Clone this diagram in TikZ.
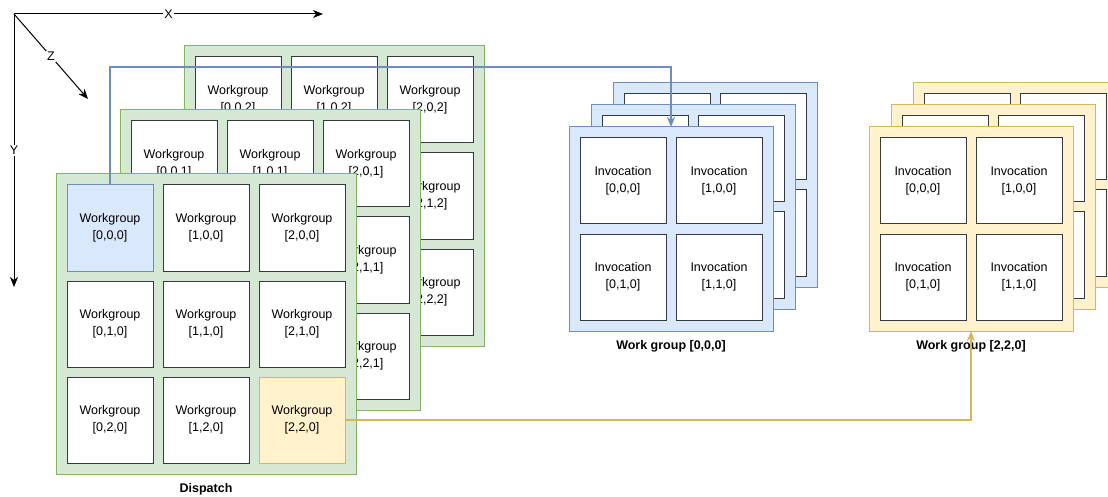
\documentclass[tikz,border=0pt]{standalone}
\usepackage{fontspec}
\setmainfont{Liberation Sans}
\usetikzlibrary{arrows.meta,positioning}
\definecolor{grnfill}{HTML}{D5E8D4}
\definecolor{grnline}{HTML}{82B366}
\definecolor{blufill}{HTML}{DAE8FC}
\definecolor{bluline}{HTML}{6C8EBF}
\definecolor{yelfill}{HTML}{FFF2CC}
\definecolor{yelline}{HTML}{D6B656}
\definecolor{cellline}{HTML}{36393D}
\newcommand{\wg}[1]{Workgroup\\{}[#1]}
\newcommand{\inv}[1]{Invocation\\{}[#1]}

\begin{document}
\begin{tikzpicture}[x=1pt,y=-1pt,
    panel/.style={rectangle,draw=grnline,fill=grnfill,line width=1pt,
      minimum width=300pt, minimum height=300pt, anchor=north west,
      inner sep=0pt, outer sep=0pt},
    wgpanel/.style={panel,minimum width=204pt,minimum height=204pt},
    cell/.style={rectangle,draw=cellline,fill=white,line width=1pt,
      minimum size=86pt, inner sep=0pt, outer sep=0pt},
    axis/.style={fill=white,inner sep=1pt},
    title/.style={font=\fontsize{12.5}{17.5}\selectfont\bfseries},
    to/.style={-{Stealth[length=10pt,width=8pt,inset=3pt]}},
    every node/.style={align=center,font=\fontsize{12.5}{17.5}\selectfont}]

  \useasboundingbox (0,0) rectangle (1108,497);
  \newcommand{\sep}{10pt}
  \newcommand{\pad}{11pt}

  % axes
  \coordinate (o) at (14,14);
  \coordinate (xend) at (323,14);
  \coordinate (yend) at (14,287);
  \coordinate (zend) at (88,99);
  \draw[to,line width=1pt] (o) -- node[axis] {X} (xend);
  \draw[to,line width=1pt] (o) -- node[axis] {Y} (yend);
  \draw[to,line width=1pt] (o) -- node[axis] {Z} (zend);

  % dispatch, z = 2
  \node[panel] (d2) at (184,46) {};
  \node[cell,below right=\pad and \pad of d2.north west] (w002) {\wg{0,0,2}};
  \node[cell,right=\sep of w002] (w102) {\wg{1,0,2}};
  \node[cell,right=\sep of w102] (w202) {\wg{2,0,2}};
  \node[cell,below=\sep of w002] (w012) {\wg{0,1,2}};
  \node[cell,right=\sep of w012] (w112) {\wg{1,1,2}};
  \node[cell,right=\sep of w112] (w212) {\wg{2,1,2}};
  \node[cell,below=\sep of w012] (w022) {\wg{0,2,2}};
  \node[cell,right=\sep of w022] (w122) {\wg{1,2,2}};
  \node[cell,right=\sep of w122] (w222) {\wg{2,2,2}};

  % dispatch, z = 1
  \node[panel] (d1) at (120,110) {};
  \node[cell,below right=\pad and \pad of d1.north west] (w001) {\wg{0,0,1}};
  \node[cell,right=\sep of w001] (w101) {\wg{1,0,1}};
  \node[cell,right=\sep of w101] (w201) {\wg{2,0,1}};
  \node[cell,below=\sep of w001] (w011) {\wg{0,1,1}};
  \node[cell,right=\sep of w011] (w111) {\wg{1,1,1}};
  \node[cell,right=\sep of w111] (w211) {\wg{2,1,1}};
  \node[cell,below=\sep of w011] (w021) {\wg{0,2,1}};
  \node[cell,right=\sep of w021] (w121) {\wg{1,2,1}};
  \node[cell,right=\sep of w121] (w221) {\wg{2,2,1}};

  % dispatch, z = 0
  \node[panel] (d0) at (56,174) {};
  \node[cell,draw=bluline,fill=blufill,below right=\pad and \pad of d0.north west] (w000) {\wg{0,0,0}};
  \node[cell,right=\sep of w000] (w100) {\wg{1,0,0}};
  \node[cell,right=\sep of w100] (w200) {\wg{2,0,0}};
  \node[cell,below=\sep of w000] (w010) {\wg{0,1,0}};
  \node[cell,right=\sep of w010] (w110) {\wg{1,1,0}};
  \node[cell,right=\sep of w110] (w210) {\wg{2,1,0}};
  \node[cell,below=\sep of w010] (w020) {\wg{0,2,0}};
  \node[cell,right=\sep of w020] (w120) {\wg{1,2,0}};
  \node[cell,draw=yelline,fill=yelfill,right=\sep of w120] (w220) {\wg{2,2,0}};
  \node[title,below=6pt of d0] (dlab) {Dispatch};

  % work group [0,0,0]
  \node[wgpanel,draw=bluline,fill=blufill] (ib2) at (613,83) {};
  \node[cell,below right=\pad and \pad of ib2.north west] (b2a) {};
  \node[cell,right=\sep of b2a] (b2b) {};
  \node[cell,below=\sep of b2a] (b2c) {};
  \node[cell,right=\sep of b2c] (b2d) {};
  \node[wgpanel,draw=bluline,fill=blufill] (ib1) at (591,105) {};
  \node[cell,below right=\pad and \pad of ib1.north west] (b1a) {};
  \node[cell,right=\sep of b1a] (b1b) {};
  \node[cell,below=\sep of b1a] (b1c) {};
  \node[cell,right=\sep of b1c] (b1d) {};
  \node[wgpanel,draw=bluline,fill=blufill] (ib0) at (569,127) {};
  \node[cell,below right=\pad and \pad of ib0.north west] (b0a) {\inv{0,0,0}};
  \node[cell,right=\sep of b0a] (b0b) {\inv{1,0,0}};
  \node[cell,below=\sep of b0a] (b0c) {\inv{0,1,0}};
  \node[cell,right=\sep of b0c] (b0d) {\inv{1,1,0}};
  \node[title,below=6pt of ib0] (blab) {Work group [0,0,0]};

  % work group [2,2,0]
  \node[wgpanel,draw=yelline,fill=yelfill] (iy2) at (913,83) {};
  \node[cell,below right=\pad and \pad of iy2.north west] (y2a) {};
  \node[cell,right=\sep of y2a] (y2b) {};
  \node[cell,below=\sep of y2a] (y2c) {};
  \node[cell,right=\sep of y2c] (y2d) {};
  \node[wgpanel,draw=yelline,fill=yelfill] (iy1) at (891,105) {};
  \node[cell,below right=\pad and \pad of iy1.north west] (y1a) {};
  \node[cell,right=\sep of y1a] (y1b) {};
  \node[cell,below=\sep of y1a] (y1c) {};
  \node[cell,right=\sep of y1c] (y1d) {};
  \node[wgpanel,draw=yelline,fill=yelfill] (iy0) at (869,127) {};
  \node[cell,below right=\pad and \pad of iy0.north west] (y0a) {\inv{0,0,0}};
  \node[cell,right=\sep of y0a] (y0b) {\inv{1,0,0}};
  \node[cell,below=\sep of y0a] (y0c) {\inv{0,1,0}};
  \node[cell,right=\sep of y0c] (y0d) {\inv{1,1,0}};
  \node[title,below=6pt of iy0] (ylab) {Work group [2,2,0]};

  \coordinate (bturn) at (0,67);
  \draw[to,draw=bluline,line width=1.3pt] (w000.north) -- (w000.north |- bturn) -| (ib0.north);
  \draw[to,draw=yelline,line width=1.3pt] (w220.east) -| (iy0.south);

\end{tikzpicture}
\end{document}
